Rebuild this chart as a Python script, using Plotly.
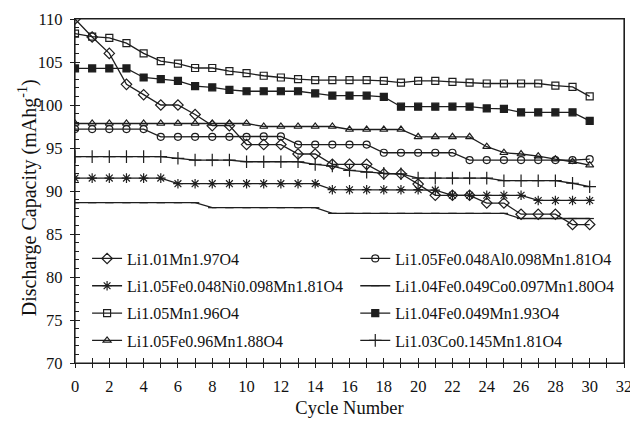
import plotly.graph_objects as go

cycles = list(range(31))

names = [
    "Li1.01Mn1.97O4",
    "Li1.05Fe0.048Al0.098Mn1.81O4",
    "Li1.05Fe0.048Ni0.098Mn1.81O4",
    "Li1.04Fe0.049Co0.097Mn1.80O4",
    "Li1.05Mn1.96O4",
    "Li1.04Fe0.049Mn1.93O4",
    "Li1.05Fe0.96Mn1.88O4",
    "Li1.03Co0.145Mn1.81O4",
]

li101 = [110, 107.9, 106.0, 102.4, 101.2, 100.0, 100.0, 98.9, 97.6, 97.6,
         95.4, 95.4, 95.4, 94.3, 94.3, 93.1, 93.1, 93.1, 92.0, 92.0,
         90.8, 89.5, 89.5, 89.5, 88.6, 88.6, 87.3, 87.3, 87.3, 86.1, 86.1]
al = [97.2, 97.2, 97.2, 97.2, 97.2, 96.3, 96.3, 96.3, 96.3, 96.3,
      96.3, 96.35, 96.35, 95.4, 95.4, 95.4, 95.4, 95.4, 94.45, 94.45,
      94.45, 94.45, 94.45, 93.6, 93.6, 93.6, 93.6, 93.6, 93.6, 93.6, 93.7]
ni = [91.5, 91.5, 91.5, 91.5, 91.5, 91.5, 90.85, 90.85, 90.85, 90.85,
      90.85, 90.85, 90.85, 90.85, 90.85, 90.15, 90.15, 90.15, 90.15, 90.15,
      90.15, 90.1, 89.5, 89.5, 89.5, 89.5, 89.5, 88.9, 88.9, 88.9, 88.9]
cofe = [88.64, 88.64, 88.64, 88.64, 88.64, 88.64, 88.64, 88.64, 88.06, 88.06,
        88.06, 88.06, 88.06, 88.06, 88.06, 87.4, 87.4, 87.4, 87.4, 87.4,
        87.4, 87.4, 87.4, 87.4, 87.4, 87.4, 86.8, 86.8, 86.8, 86.8, 86.8]
mn196 = [108.3, 107.95, 107.8, 107.2, 106.0, 105.1, 104.8, 104.3, 104.3, 103.95,
         103.7, 103.4, 103.2, 103.0, 102.9, 102.9, 102.9, 102.9, 102.8, 102.6,
         102.8, 102.8, 102.7, 102.6, 102.5, 102.5, 102.5, 102.5, 102.25, 102.1, 101.0]
fe049 = [104.25, 104.25, 104.25, 104.25, 103.2, 103.0, 102.8, 102.2, 102.05, 101.75,
         101.6, 101.6, 101.6, 101.6, 101.35, 101.1, 101.1, 101.1, 100.95, 99.8,
         99.8, 99.8, 99.8, 99.8, 99.6, 99.55, 99.15, 99.15, 99.15, 99.15, 98.15]
fe096 = [97.85, 97.85, 97.85, 97.85, 97.85, 97.85, 97.85, 97.85, 97.85, 97.85,
         97.85, 97.5, 97.5, 97.5, 97.5, 97.5, 97.15, 97.15, 97.15, 97.15,
         96.3, 96.3, 96.3, 96.3, 95.15, 94.45, 94.3, 94.05, 93.7, 93.4, 93.0]
co145 = [94.0, 94.0, 94.0, 94.0, 94.0, 94.0, 93.8, 93.6, 93.6, 93.6,
         93.4, 93.4, 93.4, 93.4, 93.1, 92.9, 92.4, 92.2, 92.05, 92.0,
         91.5, 91.5, 91.5, 91.5, 91.5, 91.2, 91.2, 91.2, 91.2, 90.9, 90.5]

x_ticks = list(range(0, 33, 2))
y_ticks = list(range(70, 111, 5))

series = [li101, al, ni, cofe, mn196, fe049, fe096, co145]
symbols = ["diamond-open", "circle-open", "asterisk-open", "line-ew-open",
           "square-open", "square", "triangle-up-open", "cross-thin-open"]
sizes = [8, 7, 8, 6, 7, 7, 7, 9]
legend_of = ["legend", "legend2", "legend", "legend2",
             "legend", "legend2", "legend", "legend2"]

ink = "#1e1e1e"
FF = "Liberation Serif"

fig = go.Figure()
for i, (nm, ys) in enumerate(zip(names, series)):
    fig.add_trace(go.Scatter(
        x=cycles, y=ys, name=nm, mode="lines+markers",
        line=dict(color=ink, width=1.3),
        marker=dict(symbol=symbols[i], size=sizes[i], color=ink,
                    line=dict(color=ink, width=1.2)),
        legend=legend_of[i], legendgroup=nm,
    ))

# overlay axes that provide the outward half of crossing ticks
fig.add_trace(go.Scatter(x=[None], y=[None], xaxis="x2", yaxis="y2",
                         showlegend=False, hoverinfo="skip"))

# frame round the plot area
fig.add_shape(type="rect", xref="paper", yref="paper", x0=0, x1=1, y0=0, y1=1,
              line=dict(color=ink, width=1.2), layer="above")

# the page body has an 8px margin; sizes/margins compensate for it
fig.update_layout(
    width=630, height=415,
    margin=dict(l=67, r=14, t=11, b=60),
    paper_bgcolor="white", plot_bgcolor="white",
    font=dict(family=FF, color="#111", size=16),
    xaxis=dict(range=[0, 32], tickvals=x_ticks, ticks="inside", ticklen=5,
               tickcolor=ink, showline=True, linecolor=ink, linewidth=1.2,
               mirror=True, showgrid=False, zeroline=False, automargin=False,
               tickfont=dict(family=FF, size=16.5, color="#111"),
               ticklabelstandoff=8,
               minor=dict(dtick=1, ticks="inside", ticklen=5, tickcolor=ink),
               title=dict(text="Cycle Number",
                          font=dict(family=FF, size=18.5, color="#111"),
                          standoff=6)),
    yaxis=dict(range=[70, 110], tickvals=y_ticks, ticks="inside", ticklen=5,
               tickcolor=ink, showline=True, linecolor=ink, linewidth=1.2,
               mirror=True, showgrid=False, zeroline=False, automargin=False,
               tickfont=dict(family=FF, size=16.5, color="#111"),
               ticklabelstandoff=8,
               minor=dict(dtick=1, ticks="inside", ticklen=4, tickcolor=ink)),
    xaxis2=dict(range=[0, 32], overlaying="x", dtick=1, tick0=0, ticks="outside",
                ticklen=4, tickcolor=ink, showticklabels=False, showline=False,
                showgrid=False, zeroline=False, automargin=False),
    yaxis2=dict(range=[70, 110], overlaying="y", dtick=5, tick0=70, ticks="outside",
                ticklen=4, tickcolor=ink, showticklabels=False, showline=False,
                showgrid=False, zeroline=False, automargin=False),
    legend=dict(x=0.022, y=0.353, xanchor="left", yanchor="top",
                bgcolor="rgba(0,0,0,0)",
                font=dict(family=FF, size=16, color="#111"),
                traceorder="grouped", tracegroupgap=3.5, itemwidth=30),
    legend2=dict(x=0.5105, y=0.353, xanchor="left", yanchor="top",
                 bgcolor="rgba(0,0,0,0)",
                 font=dict(family=FF, size=16, color="#111"),
                 traceorder="grouped", tracegroupgap=3.5, itemwidth=30),
    showlegend=True,
    annotations=[dict(text="Discharge Capacity (mAhg<sup>-1</sup>)",
                      xref="paper", yref="paper", x=-0.085, y=0.48,
                      xanchor="center", yanchor="middle", textangle=-90,
                      showarrow=False,
                      font=dict(family=FF, size=20, color="#111"))],
)

fig.write_html("out.html")
